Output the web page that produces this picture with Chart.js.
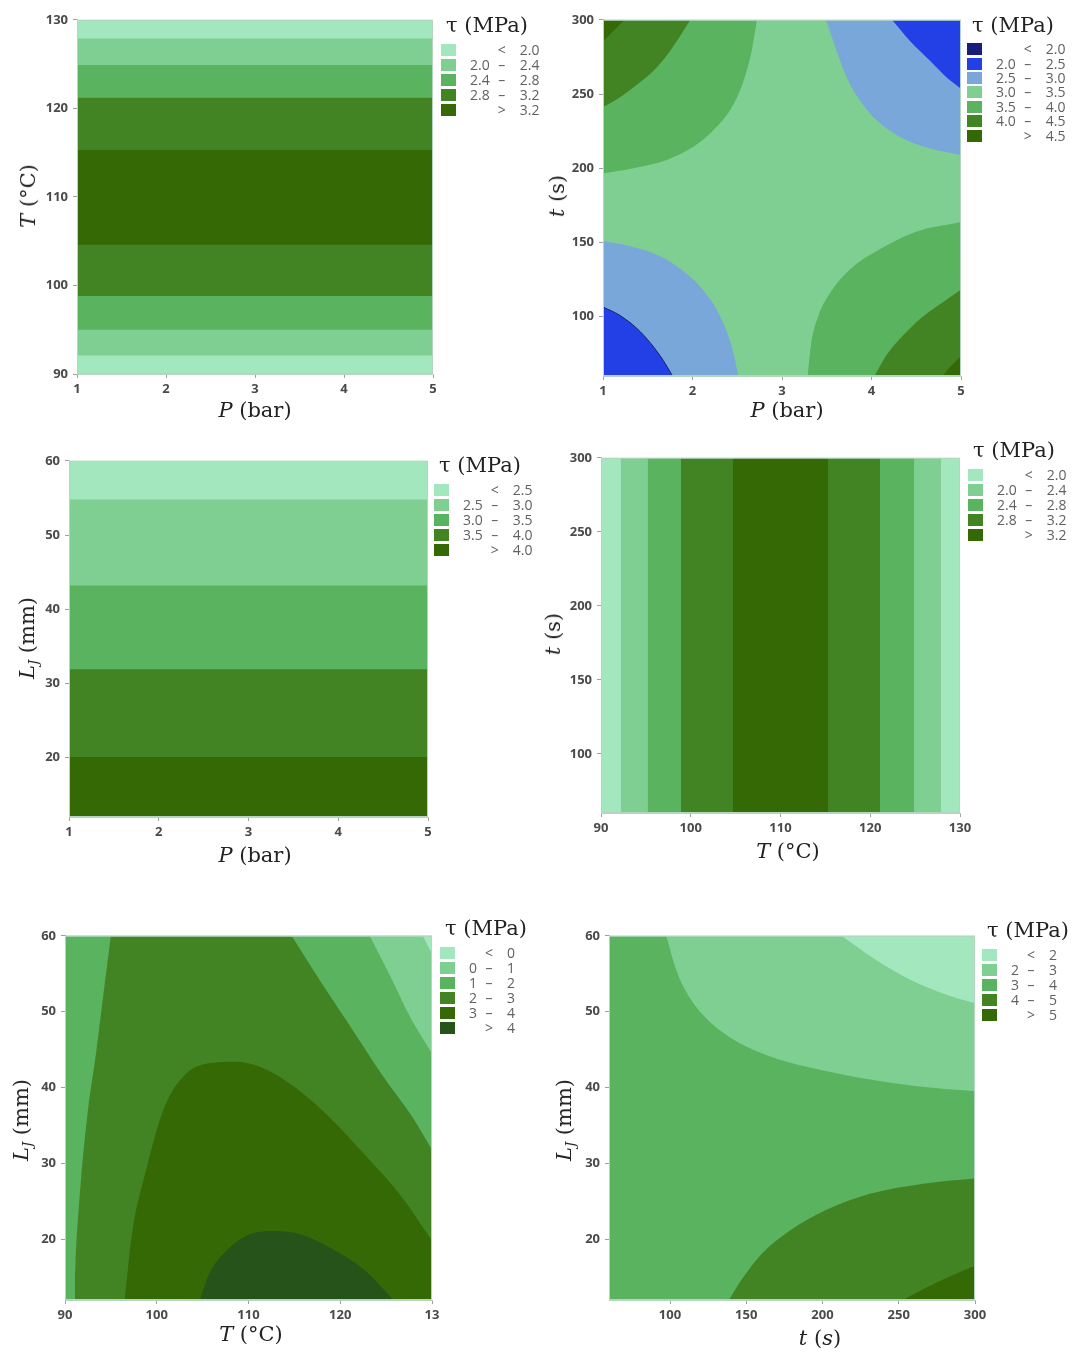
<!DOCTYPE html>
<html>
<head>
<meta charset="utf-8">
<script src="https://cdn.jsdelivr.net/npm/chart.js@4.4.1/dist/chart.umd.min.js"></script>
<style>
  body { margin: 0; background: #fff; width: 1085px; height: 1363px; position: relative; overflow: hidden; }
  .ttl { position: absolute; font-family: 'DejaVu Serif', serif; font-size: 21px; color: #222; white-space: nowrap; transform: translate(-50%, -50%); }
  .ttl.rot { transform: translate(-50%, -50%) rotate(-90deg); }
  .ttl sub { font-size: 13px; vertical-align: -4px; }
  .leg { position: absolute; }
  .leg .head { font-family: 'DejaVu Serif', serif; font-size: 21px; color: #222; margin-left: 5px; line-height: 26px; margin-bottom: 4px; white-space: nowrap; }
  .leg table { border-collapse: collapse; font-family: 'Open Sans', sans-serif; font-size: 14px; color: #616161; }
  .leg td { padding: 0; line-height: 14px; }
  .leg .sw div { width: 15px; height: 12px; }
  .leg .lo { padding-left: 14px; text-align: right; }
  .leg .sg { padding: 0 8px; text-align: center; }
  .leg .hi { padding-left: 6px; text-align: right; }
</style>
</head>
<body>
<script>
const GREENS = ['#a3e7bf', '#7ecf91', '#5ab35e', '#428424', '#346905', '#25531a'];
const NAVY = '#171f7a', BLUE = '#2340e6', PALE_BLUE = '#7aa7da';

// panel 1: T (°C) vs P (bar), level k+1 covers T in [p1Lo[k], p1Hi[k]]
const p1PTicks = [1, 2, 3, 4, 5];
const p1TTicks = [90, 100, 110, 120, 130];
const p1Lo = [92.1, 95.0, 98.8, 104.6];
const p1Hi = [127.9, 124.9, 121.2, 115.3];
const p1Legend = [['', '<', '2.0'], ['2.0', '–', '2.4'], ['2.4', '–', '2.8'], ['2.8', '–', '3.2'], ['', '>', '3.2']];

// panel 2: t (s) vs P (bar), contour boundaries [P, t]
const p2PTicks = [1, 2, 3, 4, 5];
const p2tTicks = [100, 150, 200, 250, 300];
const p2UL1 = [[1, 196.4], [1.339, 199.9], [1.712, 205.5], [2.009, 214.4], [2.233, 225.6], [2.419, 239.0], [2.531, 252.3], [2.606, 265.7], [2.661, 279.0], [2.72, 300]];
const p2UL2 = [[1, 241.2], [1.19, 247.9], [1.413, 257.9], [1.6, 267.9], [1.749, 279.0], [1.897, 292.4], [1.975, 300]];
const p2UL3 = [[1, 285.3], [1.115, 292.4], [1.24, 300]];
const p2UR1 = [[3.49, 300], [3.611, 279.0], [3.723, 261.2], [3.871, 245.7], [4.058, 232.3], [4.318, 221.1], [4.654, 213.3], [5, 208.9]];
const p2UR2 = [[4.23, 300], [4.43, 285.7], [4.654, 272.4], [4.84, 261.2], [5, 253.6]];
const p2LL1 = [[1, 150.9], [1.303, 147.5], [1.614, 141.3], [1.886, 131.2], [2.12, 117.7], [2.294, 102.0], [2.43, 81.8], [2.516, 60]];
const p2LL2 = [[1, 106.5], [1.187, 100.9], [1.381, 91.9], [1.536, 81.8], [1.672, 70.6], [1.777, 60]];
const p2LR1 = [[3.286, 60], [3.325, 81.8], [3.402, 99.8], [3.558, 117.7], [3.791, 133.4], [4.102, 145.7], [4.491, 157.0], [5, 163.7]];
const p2LR2 = [[4.032, 60], [4.18, 75.2], [4.374, 88.6], [4.568, 99.8], [4.802, 109.9], [5, 118.2]];
const p2LR3 = [[4.794, 60], [4.899, 67.4], [5, 73.1]];
const p2Legend = [['', '<', '2.0'], ['2.0', '–', '2.5'], ['2.5', '–', '3.0'], ['3.0', '–', '3.5'], ['3.5', '–', '4.0'], ['4.0', '–', '4.5'], ['', '>', '4.5']];

// panel 3: LJ (mm) vs P (bar), level k+1 below p3Cuts[k]
const p3PTicks = [1, 2, 3, 4, 5];
const p3LTicks = [20, 30, 40, 50, 60];
const p3Cuts = [54.8, 43.2, 31.9, 20.1];
const p3Legend = [['', '<', '2.5'], ['2.5', '–', '3.0'], ['3.0', '–', '3.5'], ['3.5', '–', '4.0'], ['', '>', '4.0']];

// panel 4: t (s) vs T (°C), level k+1 covers T in [p4Lo[k], p4Hi[k]]
const p4TTicks = [90, 100, 110, 120, 130];
const p4tTicks = [100, 150, 200, 250, 300];
const p4Lo = [92.2, 95.2, 98.9, 104.7];
const p4Hi = [127.9, 124.9, 121.1, 115.3];
const p4Legend = p1Legend;

// panel 5: LJ (mm) vs T (°C), contour boundaries [T, LJ]
const p5TTicks = [90, 100, 110, 120, 130];
const p5TLabels = ['90', '100', '110', '120', '13'];
const p5LTicks = [20, 30, 40, 50, 60];
const p5MidStrip = [[90, 60], [91.1, 60]];
const p5MidLeft = [[91.0, 12], [91.15, 17.0], [91.7, 27.2], [92.4, 36.0], [93.4, 44.7], [94.3, 53.4], [95.0, 60]];
const p5MidRight = [[114.7, 60], [117.0, 55.6], [120.8, 48.6], [124.6, 41.6], [127.7, 36.4], [130, 31.8]];
const p5Light = [[123.2, 60], [125.4, 54.8], [127.7, 49.1], [130, 44.5]];
const p5Lightest = [[129.0, 60], [130, 57.6]];
const p5Dark34 = [[96.5, 12], [97.3, 20.7], [98.9, 29.4], [100.8, 37.3], [103.0, 41.6], [105.7, 43.2], [108.7, 43.4], [111.7, 42.5], [115.2, 39.9], [118.9, 36.0], [122.7, 31.1], [126.5, 25.9], [130, 19.8]];
const p5Dark4 = [[104.7, 12], [105.7, 15.4], [107.6, 18.5], [110.2, 20.7], [112.9, 21.1], [115.5, 20.7], [118.9, 18.9], [122.7, 15.9], [125.8, 12]];
const p5Legend = [['', '<', '0'], ['0', '–', '1'], ['1', '–', '2'], ['2', '–', '3'], ['3', '–', '4'], ['', '>', '4']];

// panel 6: LJ (mm) vs t (s), contour boundaries [t, LJ]
const p6tTicks = [100, 150, 200, 250, 300];
const p6LTicks = [20, 30, 40, 50, 60];
const p6Light = [[97.5, 60], [103.9, 55.6], [110.7, 52.6], [122.0, 49.5], [140.2, 46.5], [163.0, 44.3], [192.5, 42.6], [224.3, 41.3], [260.7, 40.2], [300, 39.5]];
const p6Lightest = [[212.5, 60], [224.3, 58.3], [242.5, 55.9], [260.7, 53.9], [278.9, 52.4], [300, 51.1]];
const p6Dark = [[138.6, 12], [147.0, 14.7], [160.7, 18.2], [178.9, 21.2], [201.6, 23.8], [231.1, 26.0], [265.2, 27.3], [300, 28.0]];
const p6Darker = [[252.7, 12], [269.8, 13.8], [285.7, 15.3], [300, 16.5]];
const p6Legend = [['', '<', '2'], ['2', '–', '3'], ['3', '–', '4'], ['4', '–', '5'], ['', '>', '5']];

const plotArea = {
  id: 'plotArea',
  beforeDatasetsDraw(chart, args, opts) {
    const { left, top, width, height } = chart.chartArea;
    const c = chart.ctx;
    c.save();
    c.fillStyle = opts.color;
    c.fillRect(left, top, width, height);
    c.restore();
  },
  afterDatasetsDraw(chart) {
    const { left, top, width, height } = chart.chartArea;
    const c = chart.ctx;
    c.save();
    c.strokeStyle = '#b4d6bf';
    c.lineWidth = 1;
    c.strokeRect(left + 0.5, top + 0.5, width - 1, height - 1);
    c.restore();
  }
};

function axis(min, max, ticks, labels, isX) {
  return {
    type: 'linear', min, max,
    afterBuildTicks: s => { s.ticks = ticks.map(v => ({ value: v })); },
    afterFit: s => { if (isX) s.height = 30; else s.width = 50; },
    ticks: {
      color: '#4a4a4a', padding: isX ? 3 : 5, autoSkip: false, maxRotation: 0,
      font: { family: 'Open Sans', size: 13, weight: 'bold' },
      callback: (v, i) => labels ? labels[i] : String(ticks[i])
    },
    grid: { drawOnChartArea: false, tickLength: 4, color: '#a0a0a0' },
    border: { color: '#b4d6bf' }
  };
}

function area(pts, fill, color, extra) {
  return Object.assign({
    data: pts.map(([x, y]) => ({ x, y })),
    fill, backgroundColor: color, borderColor: 'transparent', borderWidth: 0,
    pointRadius: 0, cubicInterpolationMode: 'monotone'
  }, extra || {});
}

// datasets are listed bottom layer first; Chart.js paints index 0 on top, so flip them
function plot(box, xs, ys, base, datasets) {
  const [l, t, r, b] = box;
  const cv = document.createElement('canvas');
  const w = r - l + 70, h = b - t + 40;
  cv.width = w; cv.height = h;
  cv.style.cssText = `position:absolute;left:${l - 50}px;top:${t - 10}px;width:${w}px;height:${h}px`;
  document.body.appendChild(cv);
  return new Chart(cv, {
    type: 'line',
    data: { datasets: datasets.slice().reverse() },
    options: {
      responsive: false, animation: false,
      layout: { padding: { top: 10, right: 20, left: 0, bottom: 0 } },
      plugins: { legend: { display: false }, tooltip: { enabled: false }, plotArea: { color: base } },
      scales: {
        x: axis(xs[0], xs[1], xs[2], xs[3], true),
        y: axis(ys[0], ys[1], ys[2], ys[3], false)
      }
    },
    plugins: [plotArea]
  });
}

function label(html, x, y, rot) {
  const d = document.createElement('div');
  d.className = 'ttl' + (rot ? ' rot' : '');
  d.style.left = x + 'px'; d.style.top = y + 'px';
  d.innerHTML = html;
  document.body.appendChild(d);
}

function legend(left, top, rows, colors, rowH) {
  const d = document.createElement('div');
  d.className = 'leg';
  d.style.left = left + 'px'; d.style.top = top + 'px';
  let html = '<div class="head">τ (MPa)</div><table>';
  rows.forEach((r, i) => {
    html += `<tr style="height:${rowH}px"><td class="sw"><div style="background:${colors[i]}"></div></td>` +
      `<td class="lo">${r[0]}</td><td class="sg">${r[1]}</td><td class="hi">${r[2]}</td></tr>`;
  });
  d.innerHTML = html + '</table>';
  document.body.appendChild(d);
}

// panel 1
plot([77, 17, 433, 374], [1, 5, p1PTicks], [90, 130, p1TTicks], GREENS[0],
  p1Lo.map((lo, k) => area([[1, p1Hi[k]], [5, p1Hi[k]]], { value: lo }, GREENS[k + 1])));
label('<i>P</i> (bar)', 255, 410);
label('<i>T</i> (°C)', 28, 196, true);
legend(441, 12, p1Legend, GREENS.slice(0, 5), 15);

// panel 2
plot([603, 17, 961, 376], [1, 5, p2PTicks], [60, 300, p2tTicks], GREENS[1], [
  area(p2UL1, 'end', GREENS[2]), area(p2UL2, 'end', GREENS[3]), area(p2UL3, 'end', GREENS[4]),
  area(p2UR1, 'end', PALE_BLUE), area(p2UR2, 'end', BLUE),
  area(p2LL1, 'start', PALE_BLUE), area(p2LL2, 'start', BLUE, { borderColor: NAVY, borderWidth: 1 }),
  area(p2LR1, 'start', GREENS[2]), area(p2LR2, 'start', GREENS[3]), area(p2LR3, 'start', GREENS[4])
]);
label('<i>P</i> (bar)', 787, 410);
label('<i>t</i> (s)', 557, 196, true);
legend(967, 12, p2Legend, [NAVY, BLUE, PALE_BLUE, GREENS[1], GREENS[2], GREENS[3], GREENS[4]], 14.4);

// panel 3
plot([69, 458, 428, 817], [1, 5, p3PTicks], [12, 60, p3LTicks], GREENS[0],
  p3Cuts.map((c, k) => area([[1, c], [5, c]], 'start', GREENS[k + 1])));
label('<i>P</i> (bar)', 255, 855);
label('<i>L<sub>J</sub></i> (mm)', 28, 638, true);
legend(434, 452, p3Legend, GREENS.slice(0, 5), 15);

// panel 4
plot([601, 455, 960, 813], [90, 130, p4TTicks], [60, 300, p4tTicks], GREENS[0],
  p4Lo.map((lo, k) => area([[lo, 300], [p4Hi[k], 300]], 'start', GREENS[k + 1])));
label('<i>T</i> (°C)', 788, 851);
label('<i>t</i> (s)', 553, 634, true);
legend(968, 437, p4Legend, GREENS.slice(0, 5), 15);

// panel 5
plot([65, 933, 432, 1300], [90, 130, p5TTicks, p5TLabels], [12, 60, p5LTicks], GREENS[3], [
  area(p5MidStrip, 'start', GREENS[2]), area(p5MidLeft, 'end', GREENS[2]), area(p5MidRight, 'end', GREENS[2]),
  area(p5Light, 'end', GREENS[1]), area(p5Lightest, 'end', GREENS[0]),
  area(p5Dark34, 'start', GREENS[4]), area(p5Dark4, 'start', GREENS[5])
]);
label('<i>T</i> (°C)', 251, 1334);
label('<i>L<sub>J</sub></i> (mm)', 22, 1120, true);
legend(440, 915, p5Legend, GREENS, 15);

// panel 6
plot([609, 933, 975, 1300], [60, 300, p6tTicks], [12, 60, p6LTicks], GREENS[2], [
  area(p6Light, 'end', GREENS[1]), area(p6Lightest, 'end', GREENS[0]),
  area(p6Dark, 'start', GREENS[3]), area(p6Darker, 'start', GREENS[4])
]);
label('<i>t</i> (<i>s</i>)', 820, 1338);
label('<i>L<sub>J</sub></i> (mm)', 565, 1120, true);
legend(982, 917, p6Legend, GREENS.slice(0, 5), 15);
</script>
</body>
</html>
